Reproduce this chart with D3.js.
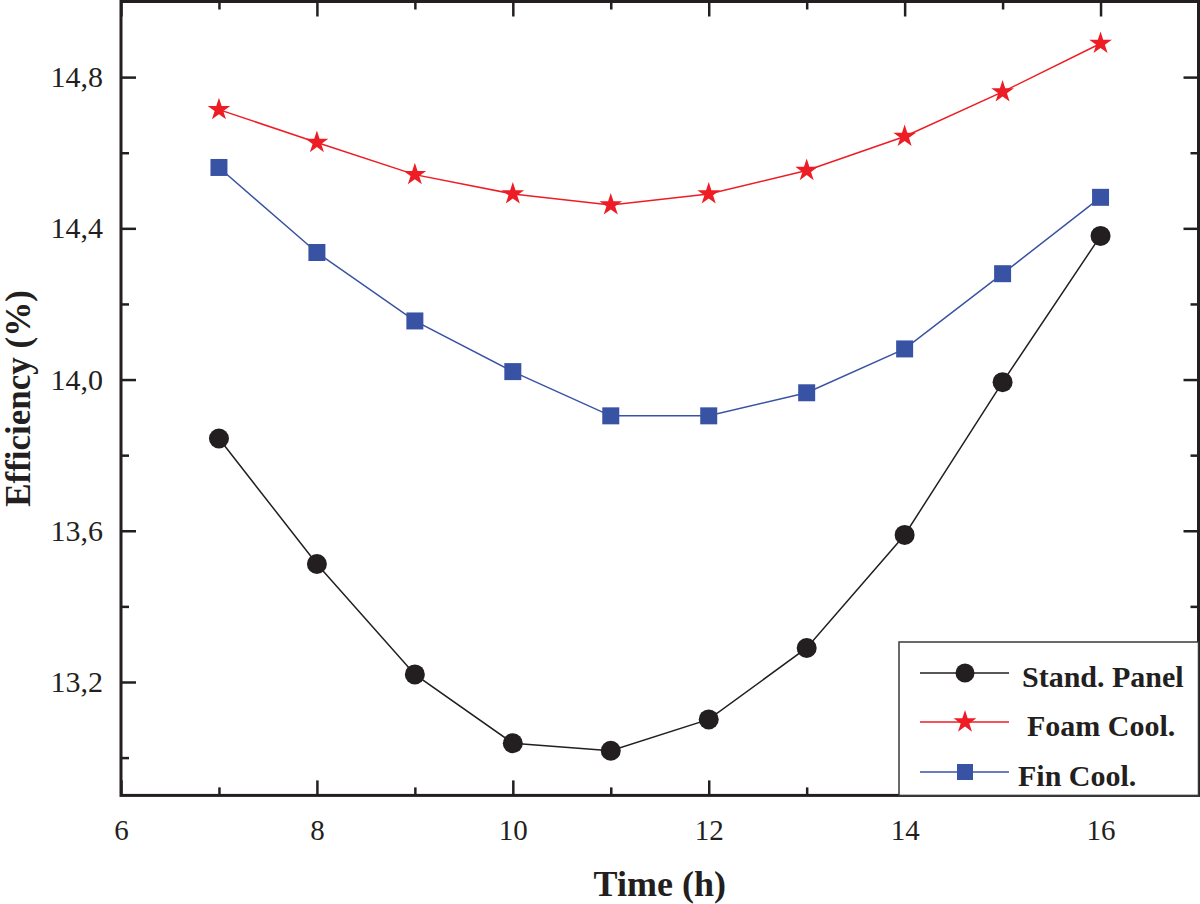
<!DOCTYPE html>
<html>
<head>
<meta charset="utf-8">
<script src="https://cdn.jsdelivr.net/npm/d3@7"></script>
<style>
  html, body { margin: 0; padding: 0; background: #fff; }
  svg { display: block; }
</style>
</head>
<body>
<script>
// ---- data ----
const hours = [7, 8, 9, 10, 11, 12, 13, 14, 15, 16];
const standPanel = [13.844, 13.512, 13.220, 13.038, 13.018, 13.101, 13.290, 13.589, 13.993, 14.380];
const foamCool   = [14.714, 14.627, 14.542, 14.491, 14.462, 14.491, 14.553, 14.643, 14.761, 14.889];
const finCool    = [14.561, 14.336, 14.155, 14.021, 13.904, 13.904, 13.965, 14.081, 14.280, 14.482];
const seriesNames = ["Stand. Panel", "Foam Cool.", "Fin Cool."];
const xTickValues = [6, 8, 10, 12, 14, 16];
const yTickValues = [13.2, 13.6, 14.0, 14.4, 14.8];
const xTitle = "Time (h)";
const yTitle = "Efficiency (%)";

const W = 1200, H = 904;
const L = 121, R = 1198.5, T = 1.5, B = 795.4;

const svg = d3.select("body").append("svg").attr("width", W).attr("height", H);

const x = d3.scaleLinear().domain([6, 17]).range([L, R]);
const y = d3.scaleLinear().domain([12.9, 15.0]).range([B, T]);

const serif = "'Liberation Serif', 'Times New Roman', serif";

const xMinor = d3.range(7, 17, 2);
const yMinor = [13.0, 13.4, 13.8, 14.2, 14.6];

function styleAxis(g) {
  g.select(".domain").remove();
  g.selectAll(".tick line").attr("stroke", "#231f20").attr("stroke-width", 2.5);
  g.selectAll(".tick text").attr("font-family", serif).attr("fill", "#231f20");
}

// bottom
const gx = svg.append("g").attr("transform", `translate(0,${B})`)
  .call(d3.axisBottom(x).tickValues(xTickValues).tickSizeInner(-15).tickSizeOuter(0).tickPadding(24).tickFormat(d3.format("d")));
styleAxis(gx);
gx.selectAll(".tick text").attr("font-size", 29);
svg.append("g").attr("transform", `translate(0,${B})`)
  .call(d3.axisBottom(x).tickValues(xMinor).tickSize(-8).tickFormat(""))
  .call(styleAxis);
// top
svg.append("g").attr("transform", `translate(0,${T})`)
  .call(d3.axisTop(x).tickValues(xTickValues).tickSize(-15).tickFormat(""))
  .call(styleAxis);
svg.append("g").attr("transform", `translate(0,${T})`)
  .call(d3.axisTop(x).tickValues(xMinor).tickSize(-8).tickFormat(""))
  .call(styleAxis);
// left
const gy = svg.append("g").attr("transform", `translate(${L},0)`)
  .call(d3.axisLeft(y).tickValues(yTickValues).tickSizeInner(-15).tickSizeOuter(0).tickPadding(18)
    .tickFormat(d => d3.format(".1f")(d).replace(".", ",")));
styleAxis(gy);
gy.selectAll(".tick text").attr("font-size", 30);
svg.append("g").attr("transform", `translate(${L},0)`)
  .call(d3.axisLeft(y).tickValues(yMinor).tickSize(-8).tickFormat(""))
  .call(styleAxis);
// right
svg.append("g").attr("transform", `translate(${R},0)`)
  .call(d3.axisRight(y).tickValues(yTickValues).tickSize(-15).tickFormat(""))
  .call(styleAxis);
svg.append("g").attr("transform", `translate(${R},0)`)
  .call(d3.axisRight(y).tickValues(yMinor).tickSize(-8).tickFormat(""))
  .call(styleAxis);

// frame
svg.append("rect").attr("x", L).attr("y", T).attr("width", R - L).attr("height", B - T)
  .attr("fill", "none").attr("stroke", "#231f20").attr("stroke-width", 3);

// titles
svg.append("text").attr("x", (L + R) / 2).attr("y", 896).attr("text-anchor", "middle")
  .attr("font-family", serif).attr("font-weight", "bold").attr("font-size", 36).attr("fill", "#231f20")
  .text(xTitle);
svg.append("text").attr("transform", `translate(30,${(T + B) / 2}) rotate(-90)`).attr("text-anchor", "middle")
  .attr("font-family", serif).attr("font-weight", "bold").attr("font-size", 35).attr("fill", "#231f20")
  .text(yTitle);

// series
const series = [
  { name: seriesNames[0], values: standPanel, color: "#231f20", symbol: d3.symbolCircle, size: Math.PI * 10 * 10 },
  { name: seriesNames[1], values: foamCool, color: "#ee1c25", symbol: d3.symbolStar, size: 160 },
  { name: seriesNames[2], values: finCool, color: "#3953a4", symbol: d3.symbolSquare, size: 17 * 17 },
];

const line = d3.line().x(d => x(d[0])).y(d => y(d[1]));
series.forEach(s => {
  const pts = hours.map((h, i) => [h, s.values[i]]);
  svg.append("path").datum(pts).attr("d", line).attr("fill", "none")
    .attr("stroke", s.color).attr("stroke-width", 1.5);
  svg.append("g").selectAll("path").data(pts).join("path")
    .attr("transform", d => `translate(${x(d[0])},${y(d[1])})`)
    .attr("d", d3.symbol(s.symbol, s.size)())
    .attr("fill", s.color);
});

// legend
const lg = svg.append("g");
lg.append("rect").attr("x", 899).attr("y", 642).attr("width", R - 899).attr("height", B - 642)
  .attr("fill", "#fff").attr("stroke", "#3a3a3a").attr("stroke-width", 1.5);
const rowsY = [673, 722, 772];
const textX = [1022, 1027, 1018];
const legSizes = [Math.PI * 9.5 * 9.5, 160, 16 * 16];
series.forEach((s, i) => {
  const ry = rowsY[i];
  lg.append("line").attr("x1", 920).attr("x2", 1009).attr("y1", ry).attr("y2", ry)
    .attr("stroke", s.color).attr("stroke-width", 1.5);
  lg.append("path").attr("transform", `translate(965,${ry})`)
    .attr("d", d3.symbol(s.symbol, legSizes[i])()).attr("fill", s.color);
  lg.append("text").attr("x", textX[i]).attr("y", ry + 14)
    .attr("font-family", serif).attr("font-weight", "bold").attr("font-size", 30).attr("fill", "#231f20")
    .text(s.name);
});
</script>
</body>
</html>
